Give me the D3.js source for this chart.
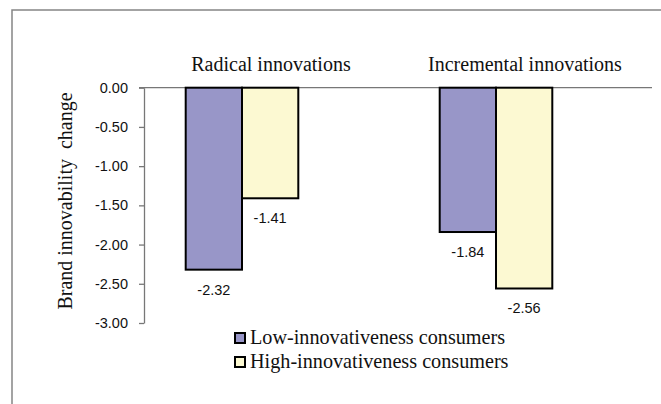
<!DOCTYPE html>
<html lang="en">
<head>
<meta charset="utf-8">
<title>Brand innovability change</title>
<script src="https://cdn.jsdelivr.net/npm/d3@7"></script>
<style>
body { margin: 0; background: white; }
.serif { font-family: "Liberation Serif", "Times New Roman", serif; fill: #111; }
.sans { font-family: "Liberation Sans", Arial, sans-serif; fill: #111; }
</style>
</head>
<body>
<script>

var categories = ["Radical innovations", "Incremental innovations"];
var series = ["Low-innovativeness consumers", "High-innovativeness consumers"];
var lowValues = [-2.32, -1.84];
var highValues = [-1.41, -2.56];
var yTicks = [0, -0.5, -1, -1.5, -2, -2.5, -3];
var colors = ["#9896c8", "#fcf9d2"];

// plain hyphen for negatives, like the original
var fmt = d3.formatLocale({ decimal: ".", thousands: ",", grouping: [3], currency: ["", ""], minus: "-" }).format(".2f")

var svg = d3.select("body").append("svg")
  .attr("width", 661)
  .attr("height", 404)

// outer frame (runs off the right and bottom)
svg.append("rect")
  .attr("x", 12).attr("y", 10)
  .attr("width", 700).attr("height", 450)
  .attr("fill", "none")
  .attr("stroke", "#858585")
  .attr("stroke-width", 1.5)

var y = d3.scaleLinear().domain([0, -3]).range([87.7, 323])

// category slots span the plot width; the bar pairs sit a bit left of centre
var x = d3.scaleBand().domain(categories).range([144, 652])
var inner = d3.scaleBand().domain(series).range([0, 112.6])
var barOffset = 41.7

var data = categories.map(function(c, i) {
  return { cat: c, values: [lowValues[i], highValues[i]] }
})

// axis
var axis = d3.axisLeft(y).tickValues(yTicks).tickSize(5).tickSizeOuter(0)
  .tickFormat(fmt)
var gAxis = svg.append("g").attr("transform", "translate(144,0)").call(axis)
gAxis.select(".domain").attr("stroke", "#777").attr("stroke-width", 1.3)
gAxis.selectAll(".tick line").attr("stroke", "#777").attr("stroke-width", 1.3)
gAxis.selectAll(".tick text")
  .attr("class", "sans")
  .attr("x", -16)
  .style("font-size", "14.5px")
  .attr("font-family", null)

// zero line
svg.append("line")
  .attr("x1", 139).attr("x2", 652)
  .attr("y1", y(0)).attr("y2", y(0))
  .attr("stroke", "#777").attr("stroke-width", 1.3)

var groups = svg.selectAll("g.cat")
  .data(data)
  .enter().append("g")
  .attr("class", "cat")
  .attr("transform", function(d) { return "translate(" + (x(d.cat) + barOffset) + ",0)" })

groups.selectAll("rect")
  .data(function(d) { return d.values.map(function(v, j) { return { v: v, s: series[j], j: j } }) })
  .enter().append("rect")
  .attr("x", function(d) { return inner(d.s) })
  .attr("y", y(0))
  .attr("width", inner.bandwidth())
  .attr("height", function(d) { return y(d.v) - y(0) })
  .attr("fill", function(d) { return colors[d.j] })
  .attr("stroke", "#000")
  .attr("stroke-width", 2)

groups.selectAll("text.val")
  .data(function(d) { return d.values.map(function(v, j) { return { v: v, s: series[j] } }) })
  .enter().append("text")
  .attr("class", "val sans")
  .attr("x", function(d) { return inner(d.s) + inner.bandwidth() / 2 })
  .attr("y", function(d) { return y(d.v) + 25 })
  .attr("text-anchor", "middle")
  .style("font-size", "14.5px")
  .text(function(d) { return fmt(d.v) })

// category labels above the bars
svg.selectAll("text.cat")
  .data(categories)
  .enter().append("text")
  .attr("class", "cat serif")
  .attr("x", function(d) { return x(d) + x.bandwidth() / 2 })
  .attr("y", 71)
  .attr("text-anchor", "middle")
  .style("font-size", "20px")
  .text(function(d) { return d })

// y title
svg.append("text")
  .attr("class", "serif")
  .attr("transform", "translate(72,201) rotate(-90)")
  .attr("text-anchor", "middle")
  .style("font-size", "20px")
  .style("white-space", "pre")
  .text("Brand innovability  change")

// legend
var legend = svg.selectAll("g.leg")
  .data(series)
  .enter().append("g")
  .attr("class", "leg")
  .attr("transform", function(d, i) { return "translate(235," + (333 + i * 24) + ")" })

legend.append("rect")
  .attr("width", 10).attr("height", 10)
  .attr("fill", function(d, i) { return colors[i] })
  .attr("stroke", "#000").attr("stroke-width", 2)

legend.append("text")
  .attr("class", "serif")
  .attr("x", 15).attr("y", 11)
  .style("font-size", "20.2px")
  .text(function(d) { return d })

</script>
</body>
</html>
